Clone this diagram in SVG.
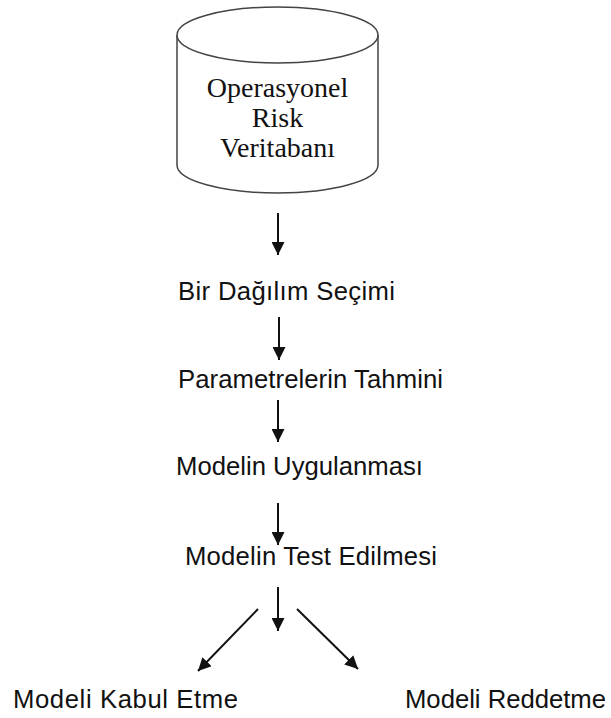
<svg xmlns="http://www.w3.org/2000/svg" width="611" height="718" viewBox="0 0 611 718">
<style>
.serif{font-family:"Liberation Serif","Times New Roman",serif;font-size:28px;fill:#111;text-anchor:middle}
.sans{font-family:"Liberation Sans",Arial,sans-serif;font-size:25.7px;fill:#111}
.cyl{fill:#fff;stroke:#444;stroke-width:1.5}
.arr{stroke:#111;stroke-width:2;fill:none;marker-end:url(#ah)}
</style>
<defs>
<marker id="ah" viewBox="0 0 13 13" refX="13" refY="6.5" markerWidth="13" markerHeight="13" markerUnits="userSpaceOnUse" orient="auto">
<path d="M0,0 L13,6.5 L0,13 z" fill="#111"/>
</marker>
</defs>
<rect width="611" height="718" fill="#fff"/>
<g id="db">
<path class="cyl" d="M177,35 L177,165 A100.5,28 0 0 0 378,165 L378,35"/>
<ellipse class="cyl" cx="277.5" cy="35" rx="100.5" ry="28"/>
<text class="serif" x="277.5" y="97">Operasyonel</text>
<text class="serif" x="277.5" y="127">Risk</text>
<text class="serif" x="277.5" y="157">Veritabanı</text>
</g>
<g id="n1"><text class="sans" x="178" y="300" textLength="217" lengthAdjust="spacing">Bir Dağılım Seçimi</text></g>
<g id="n2"><text class="sans" x="178" y="388" textLength="265" lengthAdjust="spacing">Parametrelerin Tahmini</text></g>
<g id="n3"><text class="sans" x="176" y="475" textLength="247" lengthAdjust="spacing">Modelin Uygulanması</text></g>
<g id="n4"><text class="sans" x="185" y="565" textLength="252" lengthAdjust="spacing">Modelin Test Edilmesi</text></g>
<g id="n5"><text class="sans" x="13" y="708" textLength="225" lengthAdjust="spacing">Modeli Kabul Etme</text></g>
<g id="n6"><text class="sans" x="405" y="708" textLength="201" lengthAdjust="spacing">Modeli Reddetme</text></g>
<g id="connectors">
<line class="arr" x1="278" y1="213" x2="278" y2="255"/>
<line class="arr" x1="279" y1="317" x2="279" y2="360"/>
<line class="arr" x1="278" y1="400" x2="278" y2="442"/>
<line class="arr" x1="278" y1="503" x2="278" y2="545"/>
<line class="arr" x1="278" y1="587" x2="278" y2="631"/>
<line class="arr" x1="258" y1="609" x2="198" y2="671"/>
<line class="arr" x1="297" y1="609" x2="358" y2="669"/>
</g>
</svg>
